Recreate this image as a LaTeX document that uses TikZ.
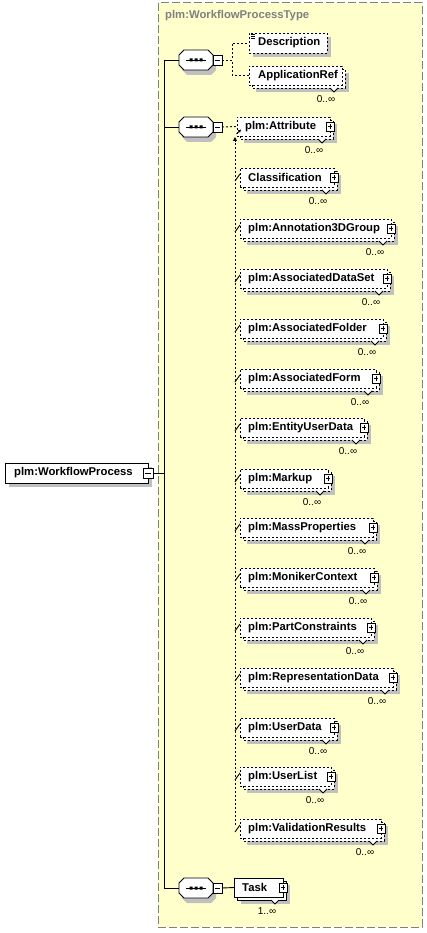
\documentclass[tikz,border=0pt]{standalone}
\usepackage{fontspec}
\setmainfont{Liberation Sans}
\usetikzlibrary{arrows.meta}
\definecolor{bgy}{RGB}{255,255,204}
\definecolor{shd}{RGB}{192,192,192}
\definecolor{gry}{RGB}{128,128,128}
\tikzset{
 dl/.style={dash pattern=on 2pt off 2pt, line width=0.9pt},
 sl/.style={line width=0.9pt},
 lbl/.style={font=\bfseries\fontsize{11.3}{13}\selectfont, inner sep=0, anchor=west},
 mlt/.style={font=\fontsize{10}{11}\selectfont, inner sep=0},
 boxn/.style={inner sep=0, anchor=west, minimum height=19pt},
}
% element with multiplicity and plus box
\newcommand\multel[7]{%
 \fill[shd] (#2+7,#4-3) rectangle (#3+7,#4+16);
 \draw[#7, fill=white] (#2+3,#4-7) rectangle (#3+3,#4+12);
 \node[boxn, draw, #7, fill=white, minimum width={#3-#2}] (#1) at (#2,#4-0.5) {};
 \node[lbl] at (#2+8,#4-0.5) {#5};
 \draw[sl, fill=white] (#3-4,#4-5) rectangle (#3+4,#4+4);
 \draw[sl] (#3-2.2,#4-0.5) -- (#3+2.2,#4-0.5) (#3,#4-2.7) -- (#3,#4+1.7);
 \draw[sl, fill=white] (#3-12,#4+12) -- (#3-8,#4+16) -- (#3-4,#4+12);
 \node[mlt] at (#3-16,#4+23) {#6};
}
% sequence compositor
\newcommand\seqc[3]{%
 \begin{scope}[shift={(#2,#3)}]
 \fill[shd] (-9,-5) -- (15,-5) -- (20,0) -- (20,10) -- (15,15) -- (-9,15) -- (-14,10) -- (-14,0) -- cycle;
 \node[inner sep=0, minimum width=34pt, minimum height=20pt] (#1) at (0,0) {};
 \draw[sl, fill=white] (-12,-10) -- (12,-10) -- (17,-5) -- (17,5) -- (12,10) -- (-12,10) -- (-17,5) -- (-17,-5) -- cycle;
 \draw[sl] (-10,0) -- (10,0);
 \fill (-6.5,-1.5) rectangle (-3.5,1.5) (-1.5,-1.5) rectangle (1.5,1.5) (3.5,-1.5) rectangle (6.5,1.5);
 \draw[sl, fill=white] (17,-5) rectangle (26,5);
 \draw[sl] (19,0) -- (24,0);
 \coordinate (#1r) at (26,0);
 \end{scope}}
\begin{document}
\begin{tikzpicture}[x=1pt,y=-1pt]
\useasboundingbox (0,0) rectangle (427,933);
% container
\draw[gry, fill=bgy, dash pattern=on 8pt off 3pt, line width=1pt] (158,3) rectangle (422,927);
\node[lbl, text=gry] (title) at (165,16) {plm:WorkflowProcessType};
% root
\fill[shd] (9,467) rectangle (152,487);
\node[boxn, draw, sl, fill=white, minimum width=143pt, minimum height=20pt] (root) at (5,473) {};
\node[lbl] at (14,473) {plm:WorkflowProcess};
\draw[sl, fill=white] (143,468) rectangle (153,478);
\draw[sl] (145,473) -- (151,473);
\coordinate (rootr) at (153,473);
% compositors
\seqc{s1}{196}{60}
\seqc{s2}{196}{127}
\seqc{s3}{196}{888}
% Description
\fill[shd] (253,37) rectangle (331,57);
\node[boxn, draw, dl, fill=white, minimum width=78pt, minimum height=20pt] (desc) at (249,43) {};
\node[lbl] at (258,43) {Description};
\draw[line width=0.6pt] (250.5,34.5) -- ++(4,0) (250.5,36.5) -- ++(4,0) (250.5,38.5) -- ++(4,0);
% ApplicationRef
\fill[shd] (256,73) rectangle (349,92);
\draw[dl, fill=white] (252,69) rectangle (345,88);
\node[boxn, draw, dl, fill=white, minimum width=93pt] (appref) at (249,75.5) {};
\node[lbl] at (258,75.5) {ApplicationRef};
\draw[sl, fill=white] (330,88) -- (334,92) -- (338,88);
\node[mlt] at (326,99) {0..\char"221E};
% elements of sequence 2
\multel{attr}{237}{330}{127}{plm:Attribute}{0..\char"221E}{dl}
\multel{classif}{240}{334}{178}{Classification}{0..\char"221E}{dl}
\multel{annot}{240}{391}{229}{plm:Annotation3DGroup}{0..\char"221E}{dl}
\multel{adset}{240}{387}{279}{plm:AssociatedDataSet}{0..\char"221E}{dl}
\multel{afolder}{240}{383}{329}{plm:AssociatedFolder}{0..\char"221E}{dl}
\multel{aform}{240}{376}{379}{plm:AssociatedForm}{0..\char"221E}{dl}
\multel{eud}{240}{364}{428}{plm:EntityUserData}{0..\char"221E}{dl}
\multel{markup}{240}{328}{479}{plm:Markup}{0..\char"221E}{dl}
\multel{mass}{240}{373}{528}{plm:MassProperties}{0..\char"221E}{dl}
\multel{moniker}{240}{374}{578}{plm:MonikerContext}{0..\char"221E}{dl}
\multel{partc}{240}{371}{628}{plm:PartConstraints}{0..\char"221E}{dl}
\multel{repd}{240}{393}{678}{plm:RepresentationData}{0..\char"221E}{dl}
\multel{userd}{240}{334}{728}{plm:UserData}{0..\char"221E}{dl}
\multel{userl}{240}{331}{777}{plm:UserList}{0..\char"221E}{dl}
\multel{valres}{240}{381}{829}{plm:ValidationResults}{0..\char"221E}{dl}
% Task
\multel{task}{234}{283}{888}{Task}{1..\char"221E}{sl}
% connectors
\draw[sl] (rootr) -- ++(12,0);
\draw[sl] (s1.west) -- ++(-14,0) |- (s3.west);
\draw[sl] (s2.west) -- ++(-14,0);
\draw[dl] (s1r) -- ++(10,0) |- (desc.west);
\draw[dl] (s1r) -- ++(10,0) |- (appref.west);
\draw[dl] (s2r) -- (attr.west);
\draw[sl] (s3r) -- (task.west);
\coordinate (vtop) at (235,137);
\coordinate (vbot) at (235,825);
\draw[dl, -{Triangle[length=4pt,width=4pt]}] (vbot) -- (vtop);
\draw[sl, -{Triangle[length=3pt,width=3pt]}] (236.5,134) -- (241,129.5);
\foreach \n in {classif,annot,adset,afolder,aform,eud,markup,mass,moniker,partc,repd,userd,userl,valres}
 \draw[sl] (\n.west -| vtop) ++(0,3.5) -- ([yshift=3.5pt]\n.west);
\end{tikzpicture}
\end{document}
